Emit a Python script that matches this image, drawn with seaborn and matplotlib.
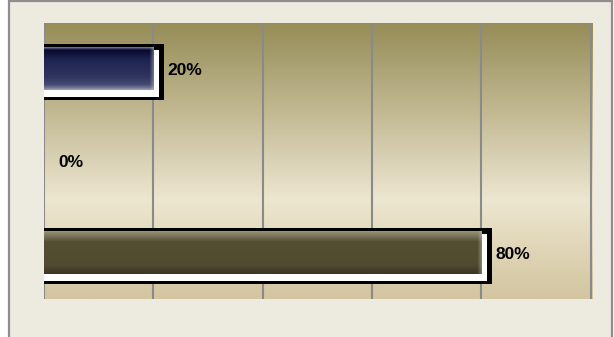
import numpy as np
import matplotlib
matplotlib.use("Agg")
import matplotlib.pyplot as plt
from matplotlib.patches import Rectangle
from matplotlib.colors import LinearSegmentedColormap
import seaborn as sns

# Survey shares per answer (percent)
categories = ["Option 1", "Option 2", "Option 3"]
values = [20, 0, 80]
axis_ticks = [0, 20, 40, 60, 80, 100]

sns.set_theme(style="white")
plt.rcParams["font.family"] = ["Liberation Sans", "DejaVu Sans"]

W, H, DPI = 614, 337, 100
fig = plt.figure(figsize=(W / DPI, H / DPI), dpi=DPI, facecolor="white")

# Chart frame
fig.add_artist(Rectangle((9 / W, -0.01), (612 - 9) / W, 1.01 - 0.5 / H,
                         transform=fig.transFigure, facecolor="#EDEAE0",
                         edgecolor="#8E8E8E", linewidth=1.6, zorder=0))

left, right, top, bottom = 44, 593, 23, 299
ax = fig.add_axes([left / W, (H - bottom) / H, (right - left) / W, (bottom - top) / H])
ax.set_facecolor("none")

# Plot-area vertical gradient
bg = LinearSegmentedColormap.from_list("bg", [
    (0.00, "#968D58"),
    (0.33, "#C3BA95"),
    (0.64, "#EDE6D0"),
    (1.00, "#D3C59F"),
])
grad = np.linspace(0, 1, 256).reshape(-1, 1)
ax.imshow(grad, cmap=bg, aspect="auto", extent=(0, 1, 0, 1),
          transform=ax.transAxes, zorder=0.1, origin="upper")

palette = ["#2C3362", "#524C30", "#524C30"]
sns.barplot(x=values, y=categories, hue=categories, palette=palette,
            orient="h", width=0.46, legend=False, ax=ax, zorder=2,
            linewidth=0, saturation=1)

xmax = 100.4
ax.set_xlim(0, xmax)
ax.set_ylim(2.5, -0.5)
px_x = xmax / (right - left)
px_y = 3.0 / (bottom - top)

# Vertical shading profiles for the bevelled bars
profiles = [
    [(0.00, (105, 110, 145)), (0.06, (10, 10, 45)), (0.30, (30, 35, 80)),
     (0.70, (48, 54, 96)), (0.88, (70, 75, 115)), (0.95, (110, 114, 148)),
     (1.00, (150, 152, 175))],
    None,
    [(0.00, (150, 145, 115)), (0.12, (120, 114, 88)), (0.25, (84, 78, 50)),
     (0.80, (80, 74, 48)), (0.92, (66, 61, 40)), (1.00, (60, 56, 38))],
]

def shade(stops, n):
    t = np.linspace(0, 1, n)
    pos = [s[0] for s in stops]
    cols = np.array([s[1] for s in stops], float) / 255
    return np.stack([np.interp(t, pos, cols[:, k]) for k in range(3)], axis=1)

for i, (bar, v) in enumerate(zip(ax.patches, values)):
    if v <= 0:
        continue
    y0 = bar.get_y()
    h = bar.get_height()
    w = bar.get_width()
    # black outer frame
    ax.add_patch(Rectangle((0, y0 - 4 * px_y), w + 11 * px_x, h + 14 * px_y,
                           facecolor="black", edgecolor="none", zorder=1.5))
    # white reflection under the bar
    ax.add_patch(Rectangle((0, y0 + 2 * px_y), w + 6 * px_x, h + 5 * px_y,
                           facecolor="white", edgecolor="none", zorder=1.6))
    # bevelled gradient body
    ncols = max(int(round(w / px_x)), 2)
    nrows = max(int(round(h / px_y)), 2)
    col = shade(profiles[i], nrows)
    img = np.repeat(col[:, None, :], ncols, axis=1)
    edge = np.linspace(0, 0.45, 5)
    for k, a in enumerate(edge):
        img[:, ncols - 5 + k, :] = img[:, ncols - 5 + k, :] * (1 - a) + a * 0.75
    ax.imshow(img, aspect="auto", extent=(0, w, y0 + h, y0), origin="upper",
              zorder=2.1, clip_path=bar, interpolation="nearest")

ax.set_xlim(0, xmax)
ax.set_ylim(2.5, -0.5)

# value labels
for i, v in enumerate(values):
    ax.annotate(f"{v}%", xy=(v, i), xytext=(14 * 72 / DPI, -1), textcoords="offset points",
                va="center", ha="left", fontsize=12.5, fontweight="bold", color="black",
                zorder=5)

ax.set_xticks(axis_ticks)
ax.set_yticks([])
ax.set_xticklabels([])
ax.tick_params(length=0)
ax.set_xlabel("")
ax.set_ylabel("")
ax.xaxis.grid(True, color="#8A8A8A", linewidth=1.5)
ax.set_axisbelow(True)
for s in ax.spines.values():
    s.set_visible(False)

fig.savefig("out.png", dpi=DPI, facecolor="white")
